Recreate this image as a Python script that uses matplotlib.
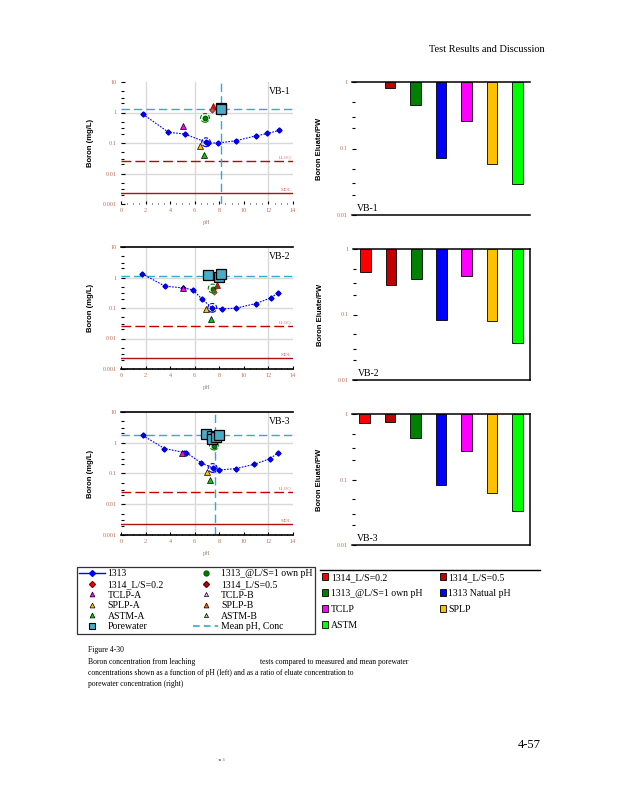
import matplotlib
matplotlib.use('Agg')
import matplotlib.pyplot as plt
from matplotlib.lines import Line2D
from matplotlib.patches import Patch
import matplotlib.ticker as mticker
import numpy as np

# ---------------- data ----------------
# 1313 pH-dependent leaching, boron (mg/L)
vb1_ph = [1.78, 3.86, 5.22, 6.92, 7.05, 7.86, 9.32, 10.97, 11.92, 12.84]
vb1_b = [0.88, 0.226, 0.195, 0.106, 0.100, 0.100, 0.118, 0.171, 0.205, 0.257]
vb2_ph = [1.73, 3.59, 5.08, 5.86, 6.59, 7.43, 8.24, 9.38, 10.97, 12.19, 12.76]
vb2_b = [1.31, 0.518, 0.456, 0.392, 0.195, 0.101, 0.094, 0.099, 0.140, 0.215, 0.313]
vb3_ph = [1.76, 3.54, 5.16, 5.30, 6.54, 7.46, 7.97, 9.32, 10.81, 12.14, 12.78]
vb3_b = [1.73, 0.649, 0.48, 0.48, 0.22, 0.151, 0.13, 0.144, 0.197, 0.305, 0.468]

# single tests: (pH, conc); None where the test was not run
vb1_own = (6.84, 0.665)
vb2_own = (7.46, 0.435)
vb3_own = (7.57, 0.81)
vb1_ls02 = (7.51, 1.60)
vb2_ls02 = (7.84, 0.559)
vb3_ls02 = None
vb1_ls05 = (7.38, 1.19)
vb2_ls05 = (7.59, 0.338)
vb3_ls05 = None
vb1_tclp = (5.03, 0.356)
vb2_tclp = (5.03, 0.467)
vb3_tclp = (5.00, 0.47)
vb1_splp = (6.46, 0.081)
vb2_splp = (6.92, 0.091)
vb3_splp = (6.97, 0.115)
vb1_astm = (6.76, 0.039)
vb2_astm = (7.30, 0.045)
vb3_astm = (7.24, 0.060)

# 1313 point at natural pH (circled)
vb1_nat = (6.92, 0.106)
vb2_nat = (7.43, 0.101)
vb3_nat = (7.46, 0.151)

# porewater samples
vb1_pw_ph = [8.10, 8.15]
vb1_pw_b = [1.41, 1.30]
vb2_pw_ph = [7.08, 8.00, 8.16]
vb2_pw_b = [1.19, 1.05, 1.31]
vb3_pw_ph = [6.92, 7.38, 7.41, 7.73, 7.97]
vb3_pw_b = [1.86, 1.68, 1.34, 1.52, 1.82]

# mean porewater pH / conc (None = not drawn)
vb1_mean_ph, vb1_mean_b = 8.10, 1.34
vb2_mean_ph, vb2_mean_b = None, 1.16
vb3_mean_ph, vb3_mean_b = 7.68, 1.77

LLOQ = 0.0255
MDL = 0.00223

# eluate / porewater ratios
bar_labels = ['1314_L/S=0.2', '1314_L/S=0.5', '1313_@L/S=1 own pH',
              '1313 Natual pH', 'TCLP', 'SPLP', 'ASTM']
bar_colors = ['#ff0000', '#c00000', '#008000', '#0000ff', '#ff00ff', '#ffc000', '#00ff00']
vb1_ratio = [np.nan, 0.82, 0.458, 0.073, 0.261, 0.059, 0.0288]
vb2_ratio = [0.453, 0.284, 0.354, 0.081, 0.389, 0.079, 0.0365]
vb3_ratio = [0.73, 0.755, 0.437, 0.081, 0.274, 0.0616, 0.0336]

# ---------------- style ----------------
SERIF = 'Liberation Serif'
TICK_C = '#b9705a'
PW_C = '#4bacc6'
MEAN_C = '#31a9d0'

panels = [
    dict(name='VB-1', ph=vb1_ph, b=vb1_b, own=vb1_own, ls02=vb1_ls02, ls05=vb1_ls05,
         tclp=vb1_tclp, splp=vb1_splp, astm=vb1_astm, nat=vb1_nat,
         pw_ph=vb1_pw_ph, pw_b=vb1_pw_b, mph=vb1_mean_ph, mb=vb1_mean_b,
         ratio=vb1_ratio, box=False),
    dict(name='VB-2', ph=vb2_ph, b=vb2_b, own=vb2_own, ls02=vb2_ls02, ls05=vb2_ls05,
         tclp=vb2_tclp, splp=vb2_splp, astm=vb2_astm, nat=vb2_nat,
         pw_ph=vb2_pw_ph, pw_b=vb2_pw_b, mph=vb2_mean_ph, mb=vb2_mean_b,
         ratio=vb2_ratio, box=True),
    dict(name='VB-3', ph=vb3_ph, b=vb3_b, own=vb3_own, ls02=vb3_ls02, ls05=vb3_ls05,
         tclp=vb3_tclp, splp=vb3_splp, astm=vb3_astm, nat=vb3_nat,
         pw_ph=vb3_pw_ph, pw_b=vb3_pw_b, mph=vb3_mean_ph, mb=vb3_mean_b,
         ratio=vb3_ratio, box=True),
]

W, H = 618, 800
fig = plt.figure(figsize=(W / 100, H / 100), dpi=100)
fig.patch.set_facecolor('white')


def fx(px):
    return px / W


def fy(py):
    return 1 - py / H


# axes boxes in pixels: (left, top, right, bottom)
left_boxes = [(121, 82, 293, 204), (121, 247, 293, 369), (121, 412, 293, 535)]
right_boxes = [(352, 82, 530, 215), (353, 249, 530, 380), (352, 414, 530, 545)]


def add_axes(box):
    l, t, r, b = box
    return fig.add_axes([fx(l), fy(b), fx(r - l), (b - t) / H])


def point(ax, pt, **kw):
    if pt is not None:
        ax.plot([pt[0]], [pt[1]], linestyle='none', zorder=5, **kw)


for i, p in enumerate(panels):
    # ---------- left: concentration vs pH ----------
    ax = add_axes(left_boxes[i])
    ax.set_yscale('log')
    ax.set_xlim(0, 14)
    ax.set_ylim(0.001, 10)

    for y in [1, 0.1, 0.01]:
        ax.axhline(y, color='#d9d9d9', lw=1, zorder=0)
    for x in [2, 6, 12]:
        ax.axvline(x, color='#d9d9d9', lw=1, zorder=0)

    ax.axhline(LLOQ, color='#c00000', lw=1, ls=(0, (7, 3)), zorder=1)
    ax.axhline(MDL, color='#b01010', lw=1, zorder=1)
    ax.text(13.85, LLOQ * 1.12, 'LLOQ', ha='right', va='bottom', fontsize=3.5,
            color='#e07070', family=SERIF)
    ax.text(13.85, MDL * 1.12, 'MDL', ha='right', va='bottom', fontsize=3.5,
            color='#e07070', family=SERIF)

    # mean porewater lines
    ax.axhline(p['mb'], color=MEAN_C, lw=1, ls=(0, (6, 3)), zorder=2)
    if p['mph'] is not None:
        ax.axvline(p['mph'], color=MEAN_C, lw=1, ls=(0, (6, 3)), zorder=2)

    # 1313 curve
    ax.plot(p['ph'], p['b'], color='#0000ff', lw=0.8, ls=(0, (1.5, 1.2)),
            marker='D', ms=2.6, mfc='#0000ff', mec='#0000cc', zorder=4)

    # circled points
    ax.scatter([p['nat'][0]], [p['nat'][1]], s=40, facecolors='none',
               edgecolors='#0000ff', linewidths=0.8, linestyles='--', zorder=6)
    ax.scatter([p['own'][0]], [p['own'][1]], s=40, facecolors='none',
               edgecolors='#008000', linewidths=0.8, linestyles='--', zorder=6)

    point(ax, p['own'], marker='o', ms=3.2, mfc='#008000', mec='#006000')
    point(ax, p['ls02'], marker='^', ms=3.8, mfc='#ff0000', mec='#800000', mew=0.5)
    point(ax, p['ls05'], marker='D', ms=2.8, mfc='#c05050', mec='#803030', mew=0.5)
    point(ax, p['tclp'], marker='^', ms=4.2, mfc='#ff00ff', mec='black', mew=0.5)
    point(ax, p['splp'], marker='^', ms=4.2, mfc='#ffc000', mec='black', mew=0.5)
    point(ax, p['astm'], marker='^', ms=4.2, mfc='#00cc00', mec='black', mew=0.5)

    ax.plot(p['pw_ph'], p['pw_b'], linestyle='none', marker='s', ms=6.5,
            mfc=PW_C, mec='black', mew=0.9, zorder=7)

    ax.text(0.985, 0.96, p['name'], transform=ax.transAxes, ha='right', va='top',
            fontsize=7, family=SERIF)

    # spines / ticks
    for s in ['left', 'right']:
        ax.spines[s].set_visible(False)
    for s in ['top', 'bottom']:
        ax.spines[s].set_visible(p['box'])
        ax.spines[s].set_linewidth(1.2)
    ax.set_xticks(np.arange(0, 15, 2))
    ax.xaxis.set_minor_locator(mticker.MultipleLocator(0.5))
    ax.set_yticks([0.001, 0.01, 0.1, 1, 10])
    ax.set_yticklabels(['0.001', '0.01', '0.1', '1', '10'])
    ax.yaxis.set_minor_locator(mticker.LogLocator(base=10, subs=(2, 3, 5)))
    ax.yaxis.set_minor_formatter(mticker.NullFormatter())
    ax.tick_params(axis='both', which='both', direction='in', color='black',
                   labelsize=4.5, labelcolor=TICK_C, pad=3)
    ax.tick_params(axis='y', which='major', length=3, width=0.8)
    ax.tick_params(axis='y', which='minor', length=2, width=0.8)
    ax.tick_params(axis='x', which='major', length=2.5, width=0.8)
    ax.tick_params(axis='x', which='minor', length=1, width=0.6)
    for lab in ax.get_xticklabels() + ax.get_yticklabels():
        lab.set_family(SERIF)
    ax.set_xlabel('pH', fontsize=4.5, color='#a08070', family=SERIF, labelpad=5)
    ax.set_ylabel('Boron (mg/L)', fontsize=5.5, fontweight='bold',
                  family='Liberation Sans', labelpad=6)

    # ---------- right: eluate / porewater ----------
    bx = add_axes(right_boxes[i])
    bx.set_yscale('log')
    bx.set_ylim(0.01, 1)
    bx.set_xlim(-0.5, 6.5)
    xs = np.arange(len(bar_labels))
    ratio = np.array(p['ratio'])
    bx.bar(xs, 1 - ratio, bottom=ratio, width=0.42, color=bar_colors,
           edgecolor='black', linewidth=0.6, zorder=3)
    bx.set_xticks([])
    bx.set_yticks([0.01, 0.1, 1])
    bx.set_yticklabels(['0.01', '0.1', '1'])
    bx.yaxis.set_minor_locator(mticker.LogLocator(base=10, subs=(2, 3, 5)))
    bx.yaxis.set_minor_formatter(mticker.NullFormatter())
    bx.tick_params(axis='y', which='both', direction='in', color='black',
                   labelsize=4.5, labelcolor=TICK_C, pad=3)
    bx.tick_params(axis='y', which='major', length=3, width=0.8)
    bx.tick_params(axis='y', which='minor', length=2, width=0.8)
    for lab in bx.get_yticklabels():
        lab.set_family(SERIF)
    bx.spines['left'].set_visible(False)
    bx.spines['right'].set_visible(p['box'])
    for s in ['top', 'bottom', 'right']:
        bx.spines[s].set_linewidth(1.1)
    bx.text(0.03, 0.015, p['name'], transform=bx.transAxes, ha='left', va='bottom',
            fontsize=7, family=SERIF)
    bx.set_ylabel('Boron Eluate/PW', fontsize=5.5, fontweight='bold',
                  family='Liberation Sans', labelpad=10)

# ---------------- left legend ----------------
h_left = [
    Line2D([], [], color='#0000ff', lw=1, marker='D', ms=3),
    Line2D([], [], ls='none', marker='D', ms=3, mfc='#ff0000', mec='#900000'),
    Line2D([], [], ls='none', marker='^', ms=3.5, mfc='#ff00ff', mec='black', mew=0.5),
    Line2D([], [], ls='none', marker='^', ms=3.5, mfc='#ffc000', mec='black', mew=0.5),
    Line2D([], [], ls='none', marker='^', ms=3.5, mfc='#00cc00', mec='black', mew=0.5),
    Line2D([], [], ls='none', marker='s', ms=4, mfc=PW_C, mec='black', mew=0.8),
    Line2D([], [], ls='none', marker='o', ms=3.5, mfc='#008000', mec='#006000'),
    Line2D([], [], ls='none', marker='D', ms=3, mfc='#c00000', mec='#600000'),
    Line2D([], [], ls='none', marker='^', ms=3, mfc='#ffb0ff', mec='black', mew=0.5),
    Line2D([], [], ls='none', marker='^', ms=3.5, mfc='#ff6000', mec='black', mew=0.5),
    Line2D([], [], ls='none', marker='^', ms=3, mfc='#90e090', mec='black', mew=0.5),
    Line2D([], [], color=MEAN_C, lw=1.2, ls=(0, (4, 2.5))),
]
l_left = ['1313', '1314_L/S=0.2', 'TCLP-A', 'SPLP-A', 'ASTM-A', 'Porewater',
          '1313_@L/S=1 own pH', '1314_L/S=0.5', 'TCLP-B', 'SPLP-B', 'ASTM-B',
          'Mean pH, Conc']
leg1 = fig.legend(h_left, l_left, loc='upper left',
                  bbox_to_anchor=(fx(77), fy(567)), ncol=2,
                  prop={'family': SERIF, 'size': 7}, frameon=True, fancybox=False,
                  edgecolor='black', borderpad=0.25, labelspacing=0.16,
                  handlelength=2.6, handletextpad=0.3, columnspacing=3.0,
                  borderaxespad=0)
leg1.get_frame().set_linewidth(0.9)

# ---------------- right legend ----------------
order = [0, 2, 4, 6, 1, 3, 5]
h_right = [Patch(facecolor=bar_colors[k], edgecolor='black', linewidth=0.6) for k in order]
l_right = [bar_labels[k] for k in order]
fig.legend(h_right, l_right, loc='upper left', bbox_to_anchor=(fx(322), fy(573)),
           ncol=2, prop={'family': SERIF, 'size': 7}, frameon=False,
           handlelength=0.6, handleheight=0.6, handletextpad=0.3,
           labelspacing=0.72, columnspacing=1.8, borderaxespad=0, borderpad=0)
fig.add_artist(Line2D([fx(320), fx(540)], [fy(570), fy(570)], color='black', lw=1))

# ---------------- page text ----------------
fig.text(fx(545), fy(50), 'Test Results and Discussion', ha='right', va='center',
         fontsize=7.5, family=SERIF)
fig.text(fx(88), fy(650), 'Figure 4-30', fontsize=5.5, family=SERIF, va='center')
fig.text(fx(88), fy(662), 'Boron concentration from leaching', fontsize=5.5,
         family=SERIF, va='center')
fig.text(fx(260), fy(662), 'tests compared to measured and mean porewater',
         fontsize=5.5, family=SERIF, va='center')
fig.text(fx(88), fy(673), 'concentrations shown as a function of pH (left) and as a ratio of '
         'eluate concentration to', fontsize=5.5, family=SERIF, va='center')
fig.text(fx(88), fy(684), 'porewater concentration (right)', fontsize=5.5,
         family=SERIF, va='center')
fig.text(fx(541), fy(745), '4-57', ha='right', va='center', fontsize=9, family=SERIF)
fig.text(fx(216), fy(760), '\u02c8 \u25aa 4', ha='left', va='center', fontsize=3,
         color='#888888', family='DejaVu Sans')

fig.savefig('out.png', dpi=100, facecolor='white')
